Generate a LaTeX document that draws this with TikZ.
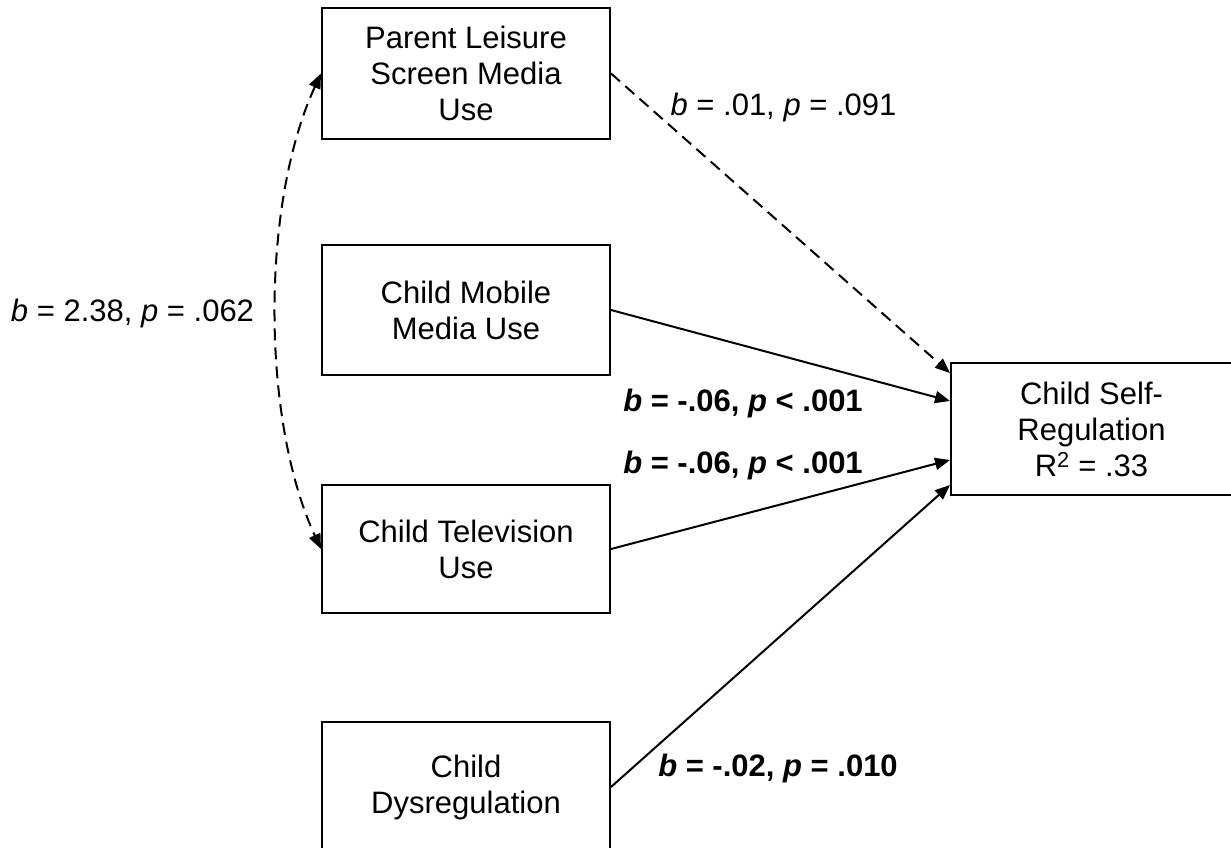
\documentclass[tikz,border=0pt]{standalone}
\usepackage{fontspec}
\setmainfont{Liberation Sans}
\usetikzlibrary{arrows.meta}
\begin{document}
\begin{tikzpicture}[x=1pt,y=-1pt,
  every node/.style={font=\fontsize{31}{36}\selectfont},
  varbox/.style={draw,line width=2pt,minimum width=288pt,align=center,inner sep=0pt},
  lbl/.style={inner sep=0pt,anchor=base},
  path/.style={line width=2pt,-{Triangle[length=15pt,width=12pt]}},
  dpath/.style={path,dash pattern=on 12pt off 7pt}]
\useasboundingbox (0,0) rectangle (1231,848);
\clip (0,0) rectangle (1231,848);
\node[varbox,minimum height=131pt] (pl) at (466,73.5) {Parent Leisure\\Screen Media\\Use};
\node[varbox,minimum height=130pt] (mob) at (466,310) {Child Mobile\\Media Use};
\node[varbox,minimum height=128pt] (tv) at (466,549) {Child Television\\Use};
\node[varbox,minimum height=130pt] (dys) at (466,787) {Child\\Dysregulation};
\node[draw,line width=2pt,minimum width=281pt,minimum height=132pt,align=center,inner sep=0pt] (sr) at (1091.5,429) {Child Self-\\Regulation\\R\textsuperscript{2} = .33};
\draw[dpath] (pl.east) -- ([yshift=56pt]sr.west);
\draw[path] (mob.east) -- ([yshift=28pt]sr.west);
\draw[path] (tv.east) -- ([yshift=-31pt]sr.west);
\draw[path] (dys.east) -- ([yshift=-56pt]sr.west);
\draw[line width=2pt,dash pattern=on 12pt off 7pt,{Triangle[length=15pt,width=12pt]}-{Triangle[length=15pt,width=12pt]}]
  (pl.west) .. controls +(-60,130) and +(-60,-130) .. (tv.west);
\node[lbl] (l1) at (783.5,116) {\textit{b} = .01, \textit{p} = .091};
\node[lbl] (l2) at (132.5,321) {\textit{b} = 2.38, \textit{p} = .062};
\node[lbl] (l3) at (743,411) {\bfseries\textit{b} = -.06, \textit{p} < .001};
\node[lbl] (l4) at (743,473) {\bfseries\textit{b} = -.06, \textit{p} < .001};
\node[lbl] (l5) at (778,776) {\bfseries\textit{b} = -.02, \textit{p} = .010};
\end{tikzpicture}
\end{document}
